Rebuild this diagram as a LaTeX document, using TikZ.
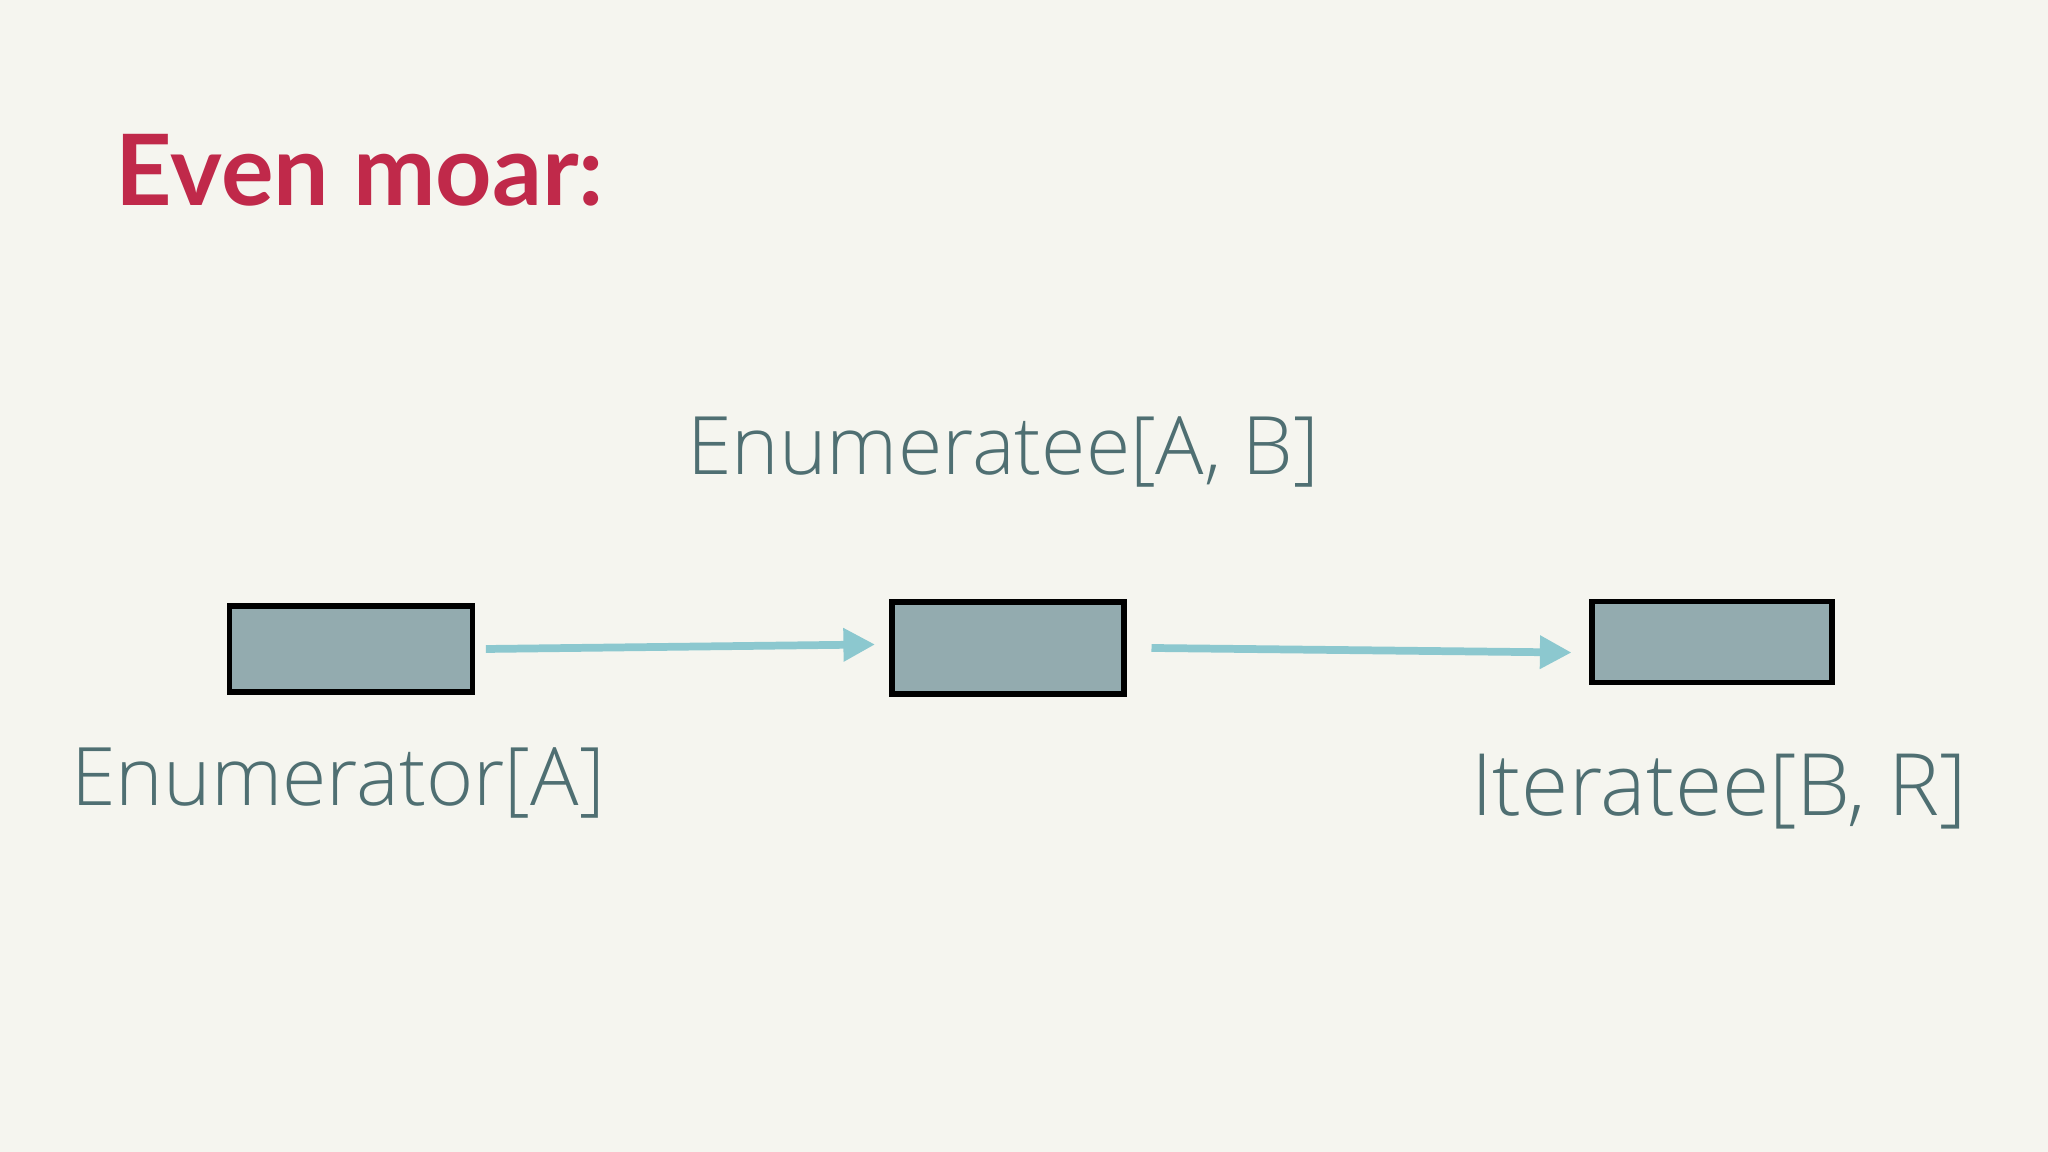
\documentclass[tikz,border=0pt]{standalone}
\usepackage{fontspec}
\setmainfont{Lato}
\newfontfamily\handfont{Open Sans Light}
\usetikzlibrary{arrows.meta}
\definecolor{bg}{HTML}{F5F5EF}
\definecolor{titlered}{HTML}{C0294A}
\definecolor{boxfill}{HTML}{93ABAF}
\definecolor{arrowc}{HTML}{8CC8CF}
\definecolor{labelc}{HTML}{4F6F72}
\tikzset{
  blk/.style={draw=black, line width=1.6pt, fill=boxfill, inner sep=0pt},
  conn/.style={draw=arrowc, line width=2.2pt, -{Triangle[length=9pt,width=9pt]}},
  lbl/.style={text=labelc, inner sep=0pt}
}
\begin{document}
\begin{tikzpicture}[x=0.01cm,y=0.01cm]
\fill[bg] (0,0) rectangle (2048,1152);
\useasboundingbox (0,0) rectangle (2048,1152);
\node[anchor=base west, text=titlered, inner sep=0pt, font=\bfseries\fontsize{28}{34}\selectfont] (title) at (115,946) {Even moar:};
\node[blk, minimum width=2.43cm, minimum height=0.86cm] (b1) at (351,503) {};
\node[blk, minimum width=2.32cm, minimum height=0.92cm] (b2) at (1008,504) {};
\node[blk, minimum width=2.40cm, minimum height=0.81cm] (b3) at (1712,510) {};
\draw[conn] ([xshift=3pt]b1.east) -- ([xshift=-4pt,yshift=1pt]b2.west);
\draw[conn] ([xshift=7pt]b2.east) -- ([xshift=-5pt,yshift=-3pt]b3.west);
\node[lbl] (t2) at (1003,700) {\resizebox{6.31cm}{!}{\handfont Enumeratee[A, B]}};
\node[lbl] (t1) at (338,369) {\resizebox{5.33cm}{!}{\handfont Enumerator[A]}};
\node[lbl] (t3) at (1719,360) {\resizebox{4.95cm}{!}{\handfont Iteratee[B, R]}};
\end{tikzpicture}
\end{document}
